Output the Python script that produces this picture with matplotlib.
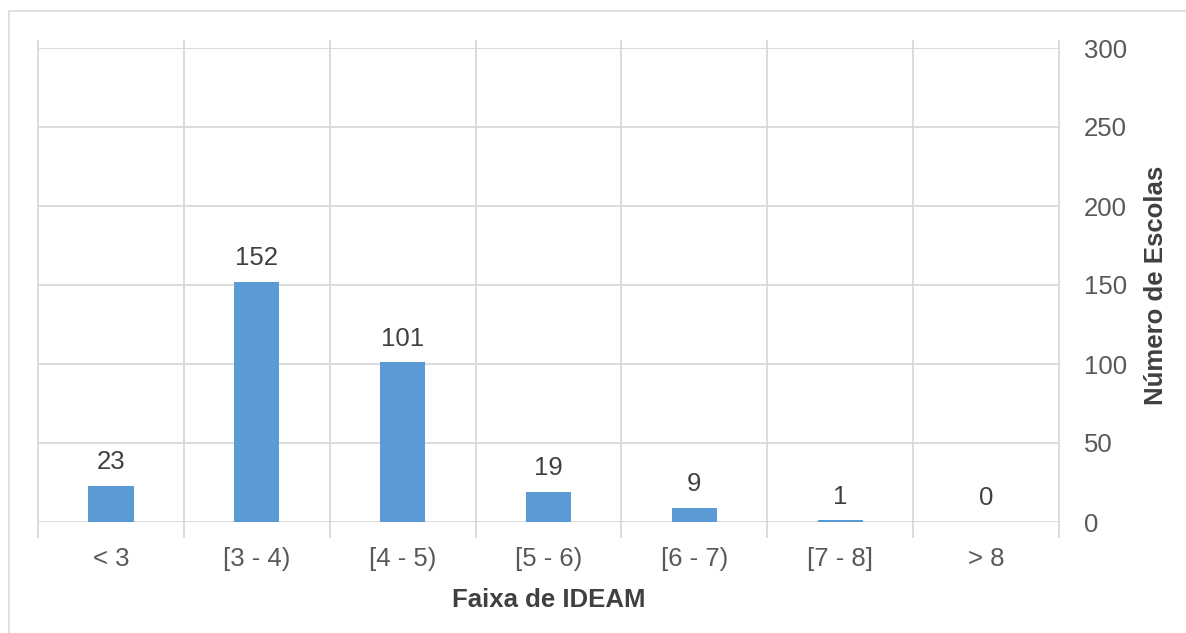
import numpy as np
import matplotlib.pyplot as plt
from matplotlib.patches import Rectangle

# dados
faixas = ['< 3', '[3 - 4)', '[4 - 5)', '[5 - 6)', '[6 - 7)', '[7 - 8]', '> 8']
n_escolas = [23, 152, 101, 19, 9, 1, 0]
y_ticks = [0, 50, 100, 150, 200, 250, 300]

plt.rcParams['font.family'] = ['Liberation Sans', 'DejaVu Sans']
grid_c = '#d9d9d9'
tick_c = '#595959'
lab_c = '#404040'
fs = 18.5

fig = plt.figure(figsize=(11.86, 6.33), dpi=100)
W, H = 1186, 633
ax = fig.add_axes([38 / W, 1 - 522 / H, (1059 - 38) / W, (522 - 48) / H])

# moldura do gráfico
fig.patches.append(Rectangle((8.5 / W, -0.1), 1.2, 1 - 11.5 / H + 0.1, transform=fig.transFigure,
                             fill=False, edgecolor=grid_c, linewidth=1.2))

x = np.arange(len(faixas))
ax.bar(x, n_escolas, width=0.31, color='#5b9bd5', zorder=3)
for xi, v in zip(x, n_escolas):
    ax.annotate(str(v), (xi, v), xytext=(0, 17), textcoords='offset points',
                ha='center', va='center', fontsize=fs, color=lab_c)

ax.set_xlim(-0.5, len(faixas) - 0.5)
ax.set_ylim(0, 300)

# linhas de grade horizontais
for t in y_ticks:
    ax.axhline(t, color=grid_c, linewidth=1.3, zorder=1)
# linhas verticais nas divisões de categoria (com marcas abaixo)
hpx = 522 - 48
for b in np.arange(-0.5, len(faixas), 1.0):
    ax.axvline(b, ymin=-15 / hpx, ymax=1 + 7 / hpx, color=grid_c, linewidth=1.3,
               zorder=1, clip_on=False)

for s in ax.spines.values():
    s.set_visible(False)

ax.yaxis.tick_right()
ax.yaxis.set_label_position('right')
ax.set_yticks(y_ticks)
ax.set_xticks(x)
ax.set_xticklabels(faixas)
ax.tick_params(axis='both', length=0, labelsize=fs, labelcolor=tick_c)
ax.tick_params(axis='x', pad=18)
ax.tick_params(axis='y', pad=18)

ax.set_xlabel('Faixa de IDEAM', fontsize=fs, fontweight='bold', color=lab_c, labelpad=12)
ax.set_ylabel('Número de Escolas', fontsize=fs, fontweight='bold', color=lab_c, labelpad=12)

fig.savefig('out.png', dpi=100)
